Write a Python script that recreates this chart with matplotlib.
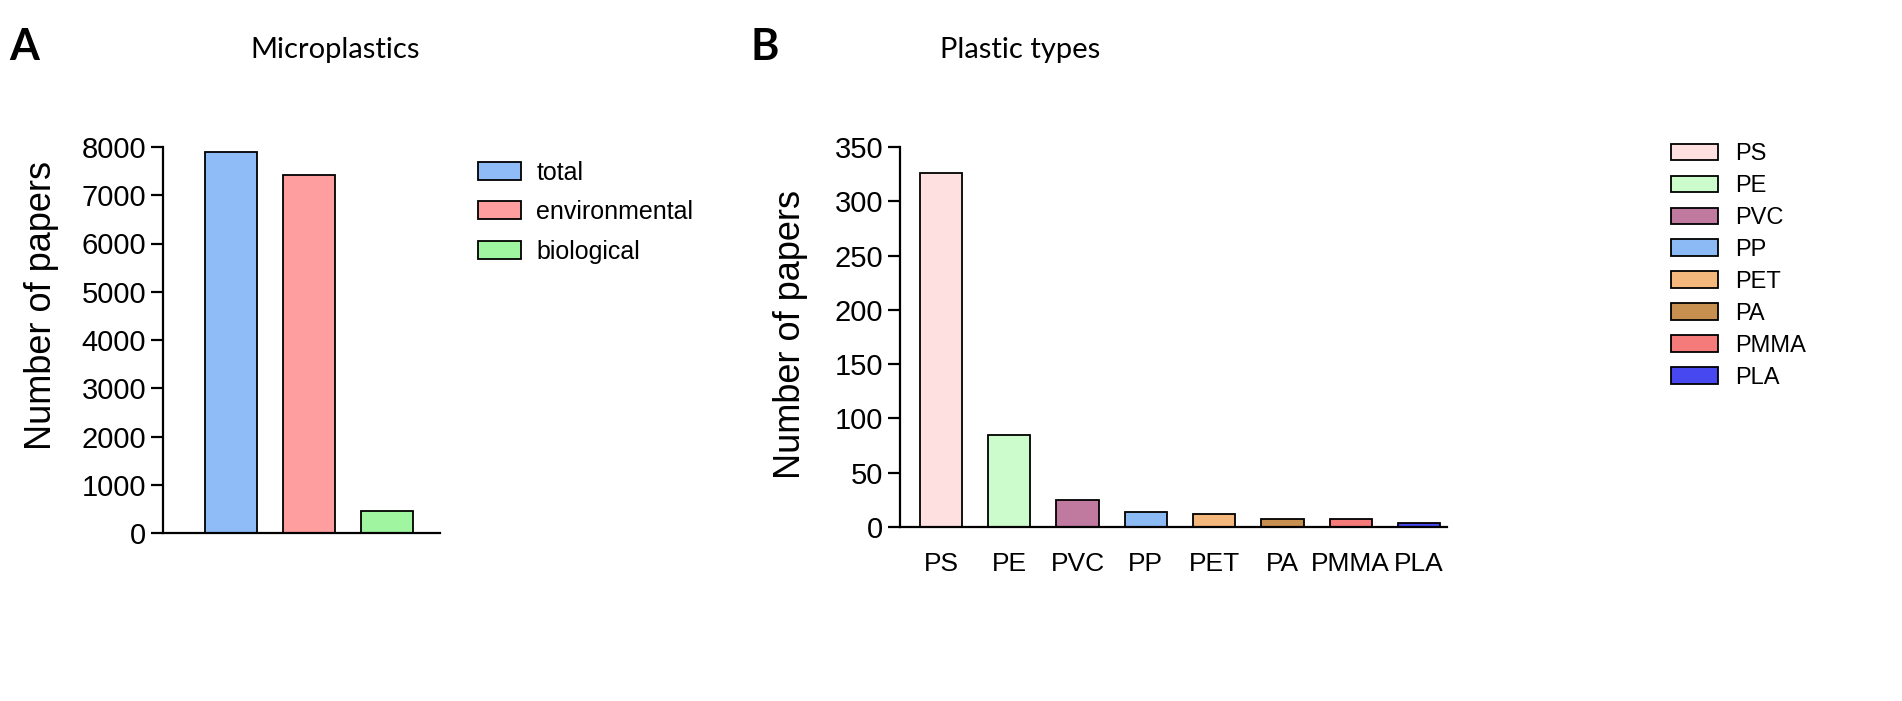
import matplotlib
matplotlib.use("Agg")
import matplotlib.pyplot as plt

# dados do painel A
grupos = ["total", "environmental", "biological"]
artigos_grupo = [7890, 7410, 450]
cores_grupo = ["#8fbcf7", "#ff9e9e", "#a0f5a0"]

# dados do painel B
plasticos = ["PS", "PE", "PVC", "PP", "PET", "PA", "PMMA", "PLA"]
artigos_plastico = [326, 85, 25, 14, 12, 7, 7, 4]
cores_plastico = ["#ffe0e0", "#ccfccc", "#c07aa0", "#8cbaf5",
                  "#f5b87c", "#c89050", "#f57a7a", "#4848f0"]

plt.rcParams["font.family"] = ["Liberation Sans", "DejaVu Sans"]

W, H = 1902, 701
fig = plt.figure(figsize=(W / 100, H / 100), dpi=100)


def eixo(x0, x1, y0, y1):
    # converte pixels em fraccao da figura
    return fig.add_axes([x0 / W, 1 - y1 / H, (x1 - x0) / W, (y1 - y0) / H])


def estilo(ax):
    for lado in ["top", "right"]:
        ax.spines[lado].set_visible(False)
    for lado in ["left", "bottom"]:
        ax.spines[lado].set_linewidth(1.6)
    ax.tick_params(axis="y", length=9, width=1.6, labelsize=21, pad=3)
    ax.tick_params(axis="x", length=0, labelsize=19, pad=18)


# painel A
axA = eixo(163, 440, 147, 533)
barrasA = axA.bar(range(len(grupos)), artigos_grupo, width=0.67,
                  color=cores_grupo, edgecolor="black", linewidth=1.3)
axA.set_xlim(-0.87, 2.68)
axA.set_ylim(0, 8000)
axA.set_yticks(range(0, 8001, 1000))
axA.set_xticks([])
estilo(axA)
fig.legend(barrasA, grupos, loc="upper left", bbox_to_anchor=(455 / W, 1 - 138 / H),
           frameon=False, fontsize=18, handlelength=1.75, handleheight=0.72,
           labelspacing=0.62, handletextpad=0.6)

# painel B
axB = eixo(900, 1447, 147, 527)
barrasB = axB.bar(range(len(plasticos)), artigos_plastico, width=0.62,
                  color=cores_plastico, edgecolor="black", linewidth=1.3)
axB.set_xlim(-0.6, 7.41)
axB.set_ylim(0, 350)
axB.set_yticks(range(0, 351, 50))
axB.set_xticks(range(len(plasticos)))
axB.set_xticklabels(plasticos)
estilo(axB)
fig.legend(barrasB, plasticos, loc="upper left", bbox_to_anchor=(1650 / W, 1 - 122 / H),
           frameon=False, fontsize=17, handlelength=2.0, handleheight=0.7,
           labelspacing=0.42, handletextpad=0.7)

# titulos, letras e rotulos
fig.text(335 / W, 1 - 50 / H, "Microplastics", family="Lato", fontsize=21,
         ha="center", va="center")
fig.text(1020 / W, 1 - 50 / H, "Plastic types", family="Lato", fontsize=21,
         ha="center", va="center")
fig.text(24 / W, 1 - 47 / H, "A", family="Lato", fontweight="bold", fontsize=31,
         ha="center", va="center")
fig.text(765 / W, 1 - 47 / H, "B", family="Lato", fontweight="bold", fontsize=31,
         ha="center", va="center")
fig.text(42 / W, 1 - 305 / H, "Number of papers", fontsize=26,
         rotation=90, ha="center", va="center")
fig.text(790 / W, 1 - 335 / H, "Number of papers", fontsize=26,
         rotation=90, ha="center", va="center")

fig.savefig("out.png", dpi=100, facecolor="white")
